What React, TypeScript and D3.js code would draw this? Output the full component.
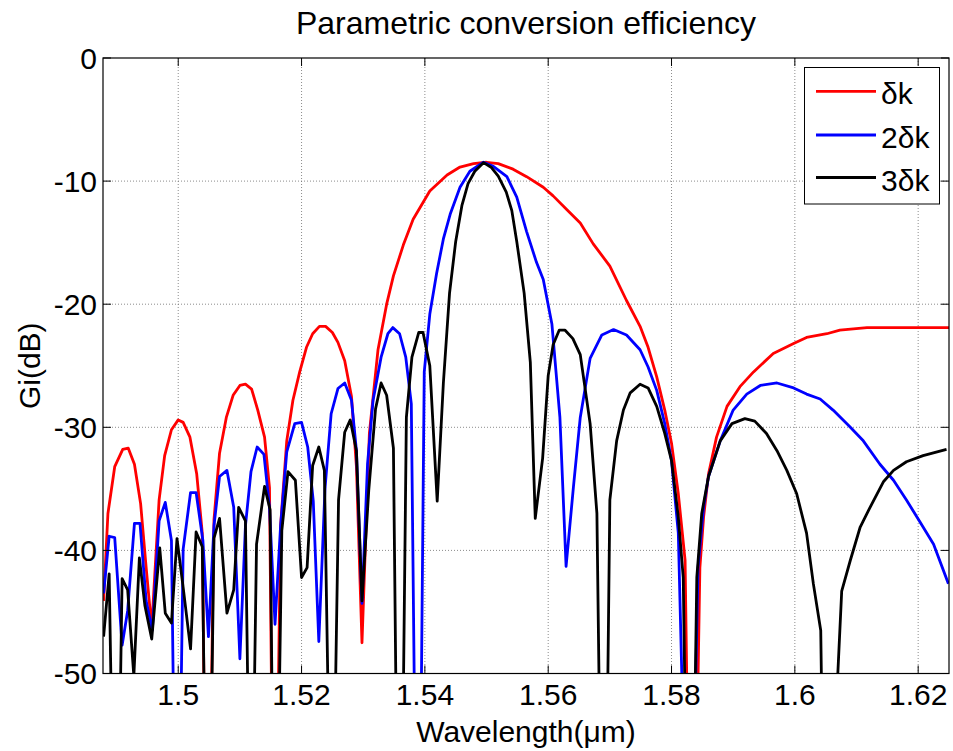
import React from "react";
import * as d3 from "d3";

const title = "Parametric conversion efficiency";
const xLabel = "Wavelength(\u03bcm)";
const yLabel = "Gi(dB)";
const xTicks = [1.5, 1.52, 1.54, 1.56, 1.58, 1.6, 1.62];
const xTickLabels = ["1.5", "1.52", "1.54", "1.56", "1.58", "1.6", "1.62"];
const yTicks = [0, -10, -20, -30, -40, -50];
const seriesNames = ["\u03b4k", "2\u03b4k", "3\u03b4k"];
const seriesColors = ["#ff0000", "#0000ff", "#000000"];

const redWl = [1.4879, 1.4886, 1.4897, 1.491, 1.4919, 1.4929, 1.4939, 1.4948, 1.4957, 1.4969, 1.4978, 1.4989, 1.5, 1.5008, 1.5019, 1.503, 1.5039, 1.5047, 1.5058, 1.5067, 1.5078, 1.5089, 1.51, 1.5109, 1.5119, 1.5129, 1.514, 1.5148, 1.5156, 1.5166, 1.5176, 1.5186, 1.5197, 1.5208, 1.5218, 1.5229, 1.5239, 1.525, 1.5259, 1.527, 1.5281, 1.5289, 1.5298, 1.531, 1.5324, 1.5338, 1.5349, 1.5365, 1.5381, 1.5408, 1.5436, 1.5457, 1.5479, 1.55, 1.5519, 1.5543, 1.5565, 1.5592, 1.5608, 1.563, 1.5652, 1.5673, 1.57, 1.5727, 1.5749, 1.5762, 1.5776, 1.5789, 1.58, 1.5811, 1.5822, 1.5833, 1.5846, 1.5852, 1.586, 1.5873, 1.589, 1.5911, 1.5933, 1.5965, 1.5998, 1.6019, 1.6052, 1.6073, 1.6117, 1.625];
const redGain = [-44.1, -37.0, -33.2, -31.8, -31.7, -33.0, -36.2, -41.4, -46.3, -35.9, -32.3, -30.2, -29.4, -29.6, -30.8, -33.8, -38.6, -75, -37.5, -32.1, -29.2, -27.4, -26.6, -26.5, -26.9, -28.6, -30.8, -34.9, -75, -38, -31.1, -27.8, -25.5, -23.5, -22.4, -21.8, -21.8, -22.3, -23.1, -24.6, -27.5, -33.2, -47.5, -30.5, -23.7, -20.0, -17.7, -15.2, -13.1, -10.8, -9.5, -8.86, -8.58, -8.47, -8.58, -9.03, -9.64, -10.5, -11.2, -12.3, -13.4, -15.1, -16.9, -19.7, -21.8, -23.5, -25.9, -28.6, -31.3, -35.4, -40.8, -80, -41.4, -37.3, -33.8, -30.8, -28.3, -26.7, -25.5, -24.0, -23.2, -22.7, -22.4, -22.1, -21.9, -21.9];

const blueWl = [1.4879, 1.4888, 1.4897, 1.4909, 1.4918, 1.4929, 1.4938, 1.4948, 1.4958, 1.4969, 1.4979, 1.4989, 1.4998, 1.5008, 1.502, 1.5029, 1.504, 1.5049, 1.5058, 1.5067, 1.5079, 1.509, 1.51, 1.5109, 1.5118, 1.5128, 1.5139, 1.5148, 1.5157, 1.5166, 1.5176, 1.5189, 1.52, 1.521, 1.5219, 1.5228, 1.5238, 1.5248, 1.5259, 1.527, 1.5281, 1.5289, 1.5298, 1.5307, 1.5316, 1.5329, 1.534, 1.5348, 1.5359, 1.5369, 1.5378, 1.5389, 1.5399, 1.5408, 1.5419, 1.543, 1.5441, 1.5457, 1.5473, 1.5495, 1.5511, 1.5533, 1.5549, 1.5565, 1.5581, 1.5592, 1.5606, 1.5619, 1.5629, 1.5641, 1.5652, 1.5668, 1.5687, 1.5706, 1.5727, 1.5749, 1.5762, 1.5776, 1.5789, 1.58, 1.5811, 1.5829, 1.5843, 1.5852, 1.586, 1.5879, 1.59, 1.5922, 1.5944, 1.5971, 1.5998, 1.6019, 1.6041, 1.6062, 1.609, 1.6111, 1.6138, 1.616, 1.6181, 1.6203, 1.6225, 1.6249];
const blueGain = [-43.5, -38.85, -38.96, -47.7, -44.9, -37.8, -37.8, -44.1, -46.5, -37.6, -36.1, -39.2, -75, -39.9, -35.3, -35.3, -39.2, -47, -38, -34.0, -33.5, -36.5, -48.8, -38, -33.6, -31.6, -32.2, -36.5, -46, -38, -32.0, -29.7, -29.6, -31.6, -36, -47.4, -35, -28.9, -26.85, -26.4, -27.8, -31.9, -44.3, -33, -27.8, -24.3, -22.4, -21.9, -22.4, -24.3, -28.1, -80, -25.5, -20.8, -17.5, -14.7, -12.7, -10.5, -9.2, -8.47, -8.8, -9.64, -11.3, -14.1, -16.6, -18.0, -21.6, -29.2, -41.3, -34.8, -29.2, -24.4, -22.5, -22.06, -22.5, -23.7, -25.1, -27.0, -29.7, -32.7, -38.6, -75, -41.4, -36.5, -34.0, -31.1, -28.6, -27.3, -26.6, -26.4, -26.8, -27.3, -27.7, -28.6, -30.0, -31.1, -33.0, -34.3, -35.9, -37.7, -39.5, -42.7];

const blackWl = [1.4879, 1.4888, 1.4899, 1.4909, 1.4918, 1.4928, 1.4937, 1.4946, 1.4957, 1.497, 1.4979, 1.4989, 1.4998, 1.5008, 1.502, 1.5029, 1.5039, 1.5048, 1.5058, 1.5067, 1.5079, 1.509, 1.5098, 1.5109, 1.5118, 1.5127, 1.514, 1.5149, 1.5157, 1.5168, 1.5178, 1.519, 1.52, 1.5209, 1.5218, 1.5228, 1.5237, 1.5249, 1.526, 1.527, 1.5279, 1.5289, 1.5298, 1.5309, 1.532, 1.5329, 1.5338, 1.5349, 1.5359, 1.537, 1.5379, 1.539, 1.5397, 1.5408, 1.542, 1.543, 1.544, 1.545, 1.546, 1.547, 1.5481, 1.5495, 1.5508, 1.5519, 1.5532, 1.5541, 1.5549, 1.5561, 1.5571, 1.5579, 1.5591, 1.56, 1.5608, 1.5618, 1.5627, 1.564, 1.5652, 1.5668, 1.5679, 1.569, 1.57, 1.5711, 1.5722, 1.5733, 1.5749, 1.5762, 1.5776, 1.5789, 1.58, 1.5811, 1.5819, 1.583, 1.5841, 1.5849, 1.586, 1.5879, 1.5898, 1.5919, 1.5935, 1.5954, 1.5971, 1.5987, 1.6003, 1.6019, 1.603, 1.6042, 1.605, 1.6065, 1.6076, 1.609, 1.6106, 1.6122, 1.6144, 1.616, 1.6181, 1.6208, 1.6246];
const blackGain = [-47.0, -41.9, -75, -42.3, -43.2, -50.2, -40.6, -44.5, -47.2, -39.8, -45.1, -45.9, -39.05, -43.0, -48.0, -38.5, -39.7, -75, -39.0, -37.4, -45.1, -43.2, -36.5, -37.6, -70, -39.5, -34.8, -36.7, -75, -38.4, -33.6, -34.3, -42.2, -41.4, -33.1, -31.6, -33.5, -70, -35.9, -30.4, -29.4, -31.9, -44.1, -35.1, -28.5, -26.4, -27.4, -31.7, -80, -29.2, -24.3, -22.3, -22.3, -25.0, -36.0, -26.4, -19.1, -14.9, -12.0, -10.2, -9.2, -8.5, -8.9, -9.6, -10.9, -12.4, -14.9, -19.1, -24.7, -37.4, -32.5, -25.8, -23.3, -22.1, -22.1, -22.8, -24.1, -29.7, -37.0, -80, -35.9, -31.1, -28.6, -27.2, -26.5, -26.8, -28.3, -30.5, -32.7, -37.3, -42.2, -80, -42.2, -37.0, -34.0, -31.1, -29.7, -29.3, -29.5, -30.5, -31.9, -33.5, -35.4, -38.6, -42.7, -46.5, -75, -55, -43.3, -40.8, -38.1, -36.5, -34.4, -33.5, -32.8, -32.3, -31.8];

const W = 953;
const H = 751;
const M = { left: 103, right: 949, top: 58, bottom: 673.5 };
const FONT = "'Liberation Sans', Arial, Helvetica, sans-serif";

export default function App() {
  const x = d3.scaleLinear().domain([1.4878, 1.625]).range([M.left, M.right]);
  const y = d3.scaleLinear().domain([-50, 0]).range([M.bottom, M.top]);
  const series = [
    { wl: redWl, g: redGain },
    { wl: blueWl, g: blueGain },
    { wl: blackWl, g: blackGain },
  ];
  const line = d3
    .line<[number, number]>()
    .x((d) => x(d[0]))
    .y((d) => y(d[1]));
  const tickLen = 8;
  const legend = { x0: 804.5, y0: 67.5, x1: 939.5, y1: 204, rows: [91.3, 135, 177.5] };

  return (
    <svg
      width={W}
      height={H}
      style={{ position: "fixed", left: 0, top: 0, background: "#fff" }}
      fontFamily={FONT}
    >
      <rect x={0} y={0} width={W} height={H} fill="#fff" />
      <defs>
        <clipPath id="plotclip">
          <rect x={M.left} y={M.top} width={M.right - M.left} height={M.bottom - M.top} />
        </clipPath>
      </defs>
      <g stroke="#6e6e6e" strokeWidth={0.8} strokeDasharray="1,2">
        {xTicks.map((t) => (
          <line key={"gx" + t} x1={x(t)} x2={x(t)} y1={M.top} y2={M.bottom} />
        ))}
        {yTicks
          .filter((t) => t !== 0 && t !== -50)
          .map((t) => (
            <line key={"gy" + t} x1={M.left} x2={M.right} y1={y(t)} y2={y(t)} />
          ))}
      </g>
      <g clipPath="url(#plotclip)" fill="none" strokeWidth={2.8} strokeLinejoin="round">
        {series.map((s, i) => (
          <path
            key={i}
            d={line(s.wl.map((w, j) => [w, s.g[j]] as [number, number])) || ""}
            stroke={seriesColors[i]}
          />
        ))}
      </g>
      <rect
        x={M.left}
        y={M.top}
        width={M.right - M.left}
        height={M.bottom - M.top}
        fill="none"
        stroke="#000"
        strokeWidth={1.2}
      />
      <g stroke="#000" strokeWidth={1}>
        {xTicks.map((t) => (
          <g key={"tx" + t}>
            <line x1={x(t)} x2={x(t)} y1={M.bottom} y2={M.bottom - tickLen} />
            <line x1={x(t)} x2={x(t)} y1={M.top} y2={M.top + tickLen} />
          </g>
        ))}
        {yTicks.map((t) => (
          <g key={"ty" + t}>
            <line x1={M.left} x2={M.left + tickLen} y1={y(t)} y2={y(t)} />
            <line x1={M.right} x2={M.right - tickLen} y1={y(t)} y2={y(t)} />
          </g>
        ))}
      </g>
      <g fontSize={30} fill="#000">
        {xTicks.map((t, i) => (
          <text key={"lx" + t} x={x(t)} y={705} textAnchor="middle">
            {xTickLabels[i]}
          </text>
        ))}
        {yTicks.map((t) => (
          <text key={"ly" + t} x={97} y={y(t) + 10.7} textAnchor="end">
            {String(t)}
          </text>
        ))}
      </g>
      <text x={(M.left + M.right) / 2} y={742} fontSize={30} textAnchor="middle">
        {xLabel}
      </text>
      <text
        transform={`translate(40, ${(M.top + M.bottom) / 2}) rotate(-90)`}
        fontSize={30}
        textAnchor="middle"
      >
        {yLabel}
      </text>
      <text x={(M.left + M.right) / 2} y={34} fontSize={32} textAnchor="middle">
        {title}
      </text>
      <rect
        x={legend.x0}
        y={legend.y0}
        width={legend.x1 - legend.x0}
        height={legend.y1 - legend.y0}
        fill="#fff"
        stroke="#000"
        strokeWidth={1}
      />
      {seriesNames.map((n, i) => (
        <g key={"lg" + i}>
          <line
            x1={816}
            x2={876}
            y1={legend.rows[i]}
            y2={legend.rows[i]}
            stroke={seriesColors[i]}
            strokeWidth={2.8}
          />
          <text x={881} y={legend.rows[i] + 13} fontSize={30}>
            {n}
          </text>
        </g>
      ))}
    </svg>
  );
}
